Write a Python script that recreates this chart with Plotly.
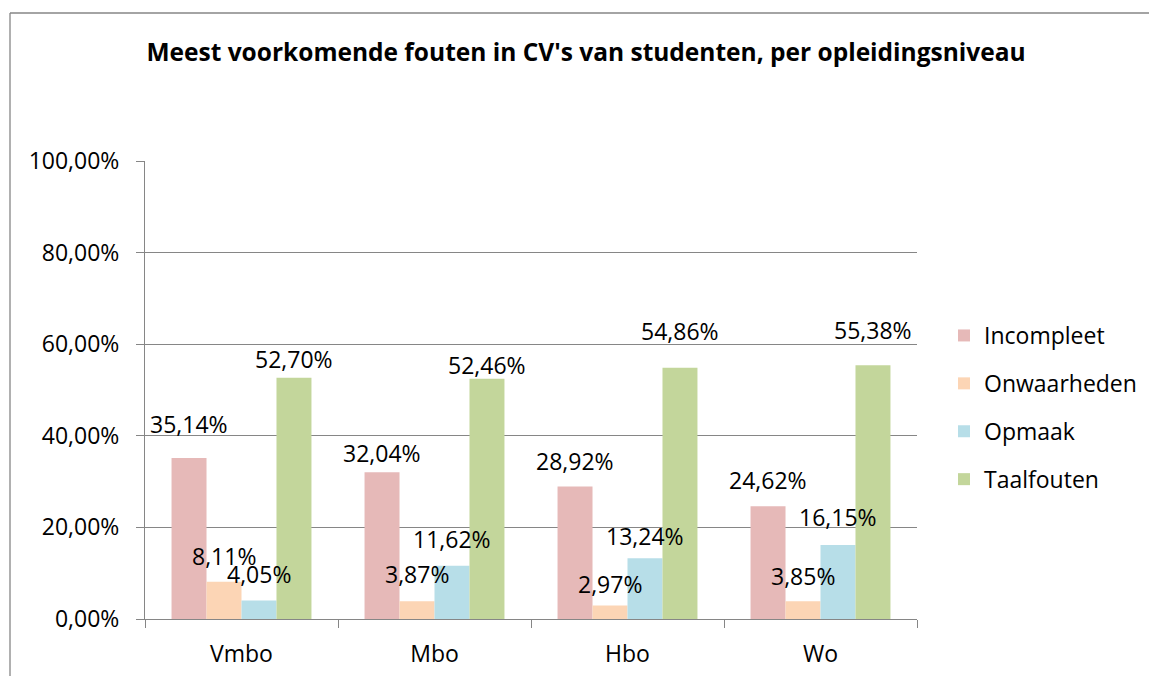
import plotly.graph_objects as go

categories = ["Vmbo", "Mbo", "Hbo", "Wo"]
series_names = ["Incompleet", "Onwaarheden", "Opmaak", "Taalfouten"]
incompleet = [0.3514, 0.3204, 0.2892, 0.2462]
onwaarheden = [0.0811, 0.0387, 0.0297, 0.0385]
opmaak = [0.0405, 0.1162, 0.1324, 0.1615]
taalfouten = [0.5270, 0.5246, 0.5486, 0.5538]
y_ticks = [0, 0.2, 0.4, 0.6, 0.8, 1.0]

series_values = [incompleet, onwaarheden, opmaak, taalfouten]
colors = ["#E6B9B8", "#FCD5B5", "#B7DEE8", "#C3D69B"]
# label lift above bar top (pixels, label centre), per series / category
label_lift = [[34, 19, 26, 26], [26, 27, 21, 25], [26, 27, 22, 28], [19, 14, 37, 35]]

FONT = "Open Sans"
W, H = 1149, 676
L, R, T, B = 145, 232, 161, 57
bargap = 0.275

fig = go.Figure()
for j, (name, vals, col) in enumerate(zip(series_names, series_values, colors)):
    fig.add_trace(go.Bar(
        x=categories, y=vals, name=name, marker=dict(color=col, line=dict(width=0)),
        legendgroup=name, hoverinfo="skip",
    ))

def fmt(v):
    return f"{v*100:.2f}".replace(".", ",") + "%"

bw = (1 - bargap) / len(series_names)
annotations = []
for j, vals in enumerate(series_values):
    for i, v in enumerate(vals):
        annotations.append(dict(
            x=i + (j - 1.5) * bw, y=v, xref="x", yref="y", text=fmt(v),
            showarrow=False, yanchor="middle", xanchor="center",
            yshift=label_lift[j][i], font=dict(family=FONT, size=23, color="#000000"),
        ))

pw = W - L - R
ph = H - T - B
border = dict(color="#868686", width=1.3)
bx0 = (10 - L) / pw
bx1 = (1149 - L) / pw
by_top = (H - B - 13) / ph
by_bot = (H - B - 700) / ph
fig.add_shape(type="line", xref="paper", yref="paper", x0=bx0, x1=bx1, y0=by_top, y1=by_top,
              line=border, layer="below")
fig.add_shape(type="line", xref="paper", yref="paper", x0=bx0, x1=bx0, y0=by_top, y1=by_bot,
              line=border, layer="below")

fig.update_layout(
    width=W, height=H,
    margin=dict(l=L, r=R, t=T, b=B, autoexpand=False),
    paper_bgcolor="white", plot_bgcolor="white",
    separators=",.",
    barmode="group", bargap=bargap, bargroupgap=0,
    font=dict(family=FONT, size=23, color="#000000"),
    title=dict(text="<b>Meest voorkomende fouten in CV's van studenten, per opleidingsniveau</b>",
               x=586 / W, xanchor="center", y=1 - 52 / H, yanchor="middle",
               yref="container", xref="container",
               font=dict(family=FONT, size=24.5, color="#000000")),
    showlegend=True,
    legend=dict(x=(944 - L) / pw, xanchor="left", y=(H - B - 314) / ph, yanchor="top",
                tracegroupgap=15, font=dict(family=FONT, size=23, color="#000000"),
                bgcolor="rgba(0,0,0,0)", traceorder="grouped"),
    annotations=annotations,
)
fig.update_yaxes(range=[0, 1], tickvals=y_ticks, tickformat=".2%",
                 showgrid=True, gridcolor="#868686", gridwidth=1,
                 showline=True, linecolor="#868686", linewidth=1,
                 ticks="outside", ticklen=8, tickcolor="#868686",
                 ticklabelstandoff=12, zeroline=False, fixedrange=True,
                 tickfont=dict(family=FONT, size=23, color="#000000"))
fig.update_xaxes(showline=True, linecolor="#868686", linewidth=1,
                 ticks="outside", ticklen=8, tickcolor="#868686", tickson="boundaries",
                 ticklabelstandoff=14, fixedrange=True,
                 tickfont=dict(family=FONT, size=23, color="#000000"))

fig.write_html("out.html", config={"displayModeBar": False},
               post_script="document.body.style.margin='0';")
